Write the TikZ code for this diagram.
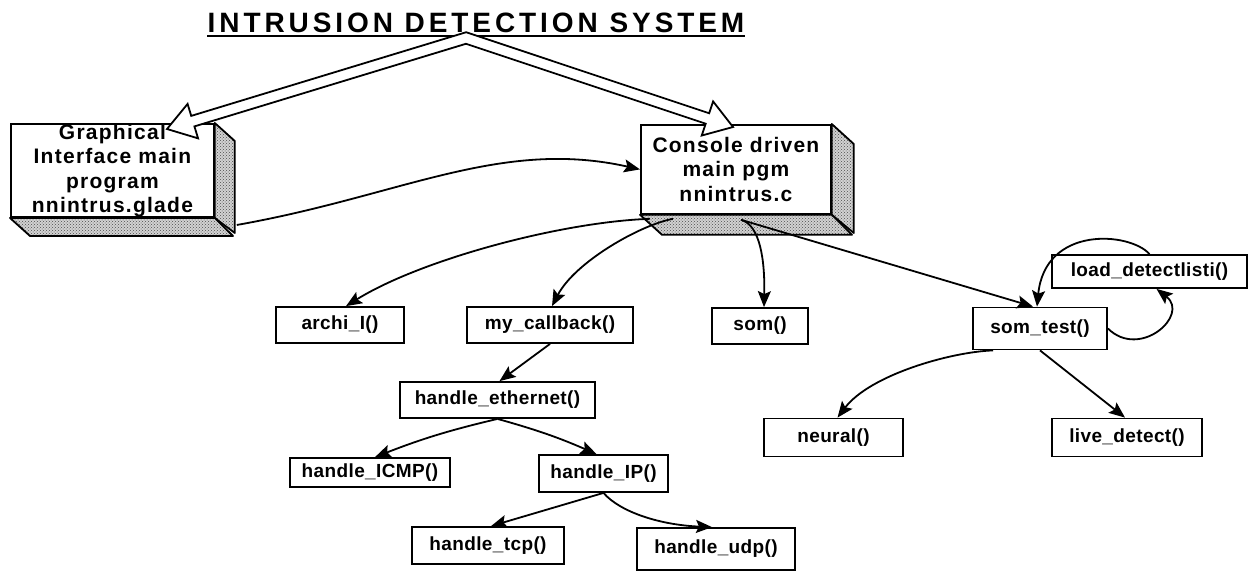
\documentclass[tikz,border=0pt]{standalone}
\usepackage{fontspec}
\setmainfont{Liberation Sans}
\usetikzlibrary{calc,arrows.meta,patterns}

\newcommand\fnfont{\bfseries\fontsize{19}{21}\selectfont\addfontfeature{LetterSpace=2}}
\newcommand\boxfont{\bfseries\fontsize{21}{24.5}\selectfont\addfontfeature{LetterSpace=6}}
\newcommand\titlefont{\bfseries\fontsize{28}{30}\selectfont\addfontfeature{LetterSpace=14}}

\tikzset{
  fn/.style={draw, line width=1.8pt, fill=white, font=\fnfont, inner sep=0pt, minimum height=36pt},
  link/.style={line width=1.8pt, -{Stealth[length=16pt,width=13pt,inset=3pt]}},
  front/.style={draw, line width=1.8pt, fill=white, anchor=north west, align=center, font=\boxfont, inner sep=0pt},
  face/.style={draw, line width=1.8pt, preaction={fill=gray!35}, pattern=crosshatch dots, pattern color=gray!60!black, line join=round},
  hollow/.style={draw, line width=1.8pt, fill=white, line join=miter},
}

\begin{document}
\begin{tikzpicture}[x=1pt,y=-1pt]
\useasboundingbox (0,0) rectangle (1249,571);

% title
\node[font=\titlefont, anchor=base, inner sep=0pt] (title) at (476,32) {INTRUSION DETECTION SYSTEM};
\draw[line width=2.6pt] ([yshift=-4pt]title.base west) -- ([yshift=-4pt]title.base east);

% extruded main-program boxes
\node[front, minimum width=203pt, minimum height=92pt] (gui) at (10,123)
  {Graphical\\Interface main\\program\\nnintrus.glade};
\path[face] (gui.north east) -- ++(20,18) -- ++(0,92) -- (gui.south east) -- cycle;
\path[face] (gui.south west) -- ++(20,18) -- ++(203,0) -- (gui.south east) -- cycle;

\node[front, minimum width=190pt, minimum height=89pt] (con) at (640,124)
  {Console driven\\main pgm\\nnintrus.c};
\path[face] (con.north east) -- ++(22,20) -- ++(0,89) -- (con.south east) -- cycle;
\path[face] (con.south west) -- ++(22,20) -- ++(190,0) -- (con.south east) -- cycle;

% function boxes
\node[fn, minimum width=128pt] (archi) at (340,325) {archi\_I()};
\node[fn, minimum width=166pt] (mycb)  at (550,325) {my\_callback()};
\node[fn, minimum width=96pt] (som) at (760,326) {som()};
\node[fn, minimum width=134pt, minimum height=42pt] (stest) at (1040,328.5) {som\_test()};
\node[fn, minimum width=195pt, minimum height=33pt] (load) at (1149.5,271.5) {load\_detectlisti()};
\node[fn, minimum width=195pt] (eth) at (497.5,400) {handle\_ethernet()};
\node[fn, minimum width=160pt, minimum height=29pt] (icmp) at (370,472.5) {handle\_ICMP()};
\node[fn, minimum width=129pt, minimum height=37pt] (ip) at (603.5,473.5) {handle\_IP()};
\node[fn, minimum width=152pt, minimum height=37pt] (tcp) at (488,545.5) {handle\_tcp()};
\node[fn, minimum width=158pt, minimum height=42pt] (udp) at (716,549) {handle\_udp()};
\node[fn, minimum width=139pt, minimum height=38pt] (neural) at (833.5,437.5) {neural()};
\node[fn, minimum width=150pt, minimum height=38pt] (live) at (1127,437.5) {live\_detect()};

% hollow arrows from the title
\coordinate (A) at (466,38);
\coordinate (TL) at (167,129);
\coordinate (TR) at (733,127);
\coordinate (hL) at ($(TL)!27pt!(A)$);
\coordinate (hR) at ($(TR)!27pt!(A)$);
\coordinate (li1) at ($(A)!5.5pt!90:(TL)$);
\coordinate (li2) at ($(hL)!5.5pt!90:(TL)$);
\coordinate (lo1) at ($(A)!5.5pt!-90:(TL)$);
\coordinate (lo2) at ($(hL)!5.5pt!-90:(TL)$);
\coordinate (ro1) at ($(A)!5.5pt!90:(TR)$);
\coordinate (ro2) at ($(hR)!5.5pt!90:(TR)$);
\coordinate (ri1) at ($(A)!5.5pt!-90:(TR)$);
\coordinate (ri2) at ($(hR)!5.5pt!-90:(TR)$);
\coordinate (O) at (intersection of lo1--lo2 and ro1--ro2);
\coordinate (I) at (intersection of li1--li2 and ri1--ri2);
\path[hollow] (O) -- (lo2) -- ($(hL)!18pt!-90:(TL)$) -- (TL) -- ($(hL)!18pt!90:(TL)$) -- (li2)
  -- (I) -- (ri2) -- ($(hR)!18pt!-90:(TR)$) -- (TR) -- ($(hR)!18pt!90:(TR)$) -- (ro2) -- cycle;

% call links
\coordinate (gs) at ($(gui.south east)+(22,7)$);
\coordinate (c1) at ($(con.south west)+(10,4)$);
\coordinate (c2) at ($(con.south west)+(33,4)$);
\coordinate (c3) at ($(con.south west)+(101,5)$);

\draw[link] (gs) .. controls (401,196) and (500,138) .. (con.west);
\draw[link] (c1) .. controls (560,222) and (420,260) .. ([xshift=6pt]archi.north);
\draw[link] (c2) .. controls (640,225) and (575,262) .. ([xshift=2pt]mycb.north);
\draw[link] (c3) .. controls (760,225) and (765,260) .. ([xshift=4pt]som.north);
\draw[link] (c3) -- ([xshift=-7pt]stest.north);
\draw[link] (load.north) .. controls (1130,232) and (1045,225) .. ([xshift=-3pt]stest.north);
\draw[link] (stest.east) .. controls (1140,360) and (1190,315) .. ([xshift=7pt]load.south);
\draw[link] ([xshift=-47pt]stest.south) .. controls (950,352) and (870,375) .. ([xshift=4pt]neural.north);
\draw[link] (stest.south) -- ([xshift=-2pt]live.north);
\draw[link] (mycb.south) -- ([xshift=2pt]eth.north);
\draw[link] (eth.south) to[bend right=4] ([xshift=5pt]icmp.north);
\draw[link] (eth.south) to[bend left=4] ([xshift=-7pt]ip.north);
\draw[link] (ip.south) -- ([xshift=3pt]tcp.north);
\draw[link] (ip.south) .. controls (620,512) and (660,525) .. ([xshift=-4pt]udp.north);
\end{tikzpicture}
\end{document}
